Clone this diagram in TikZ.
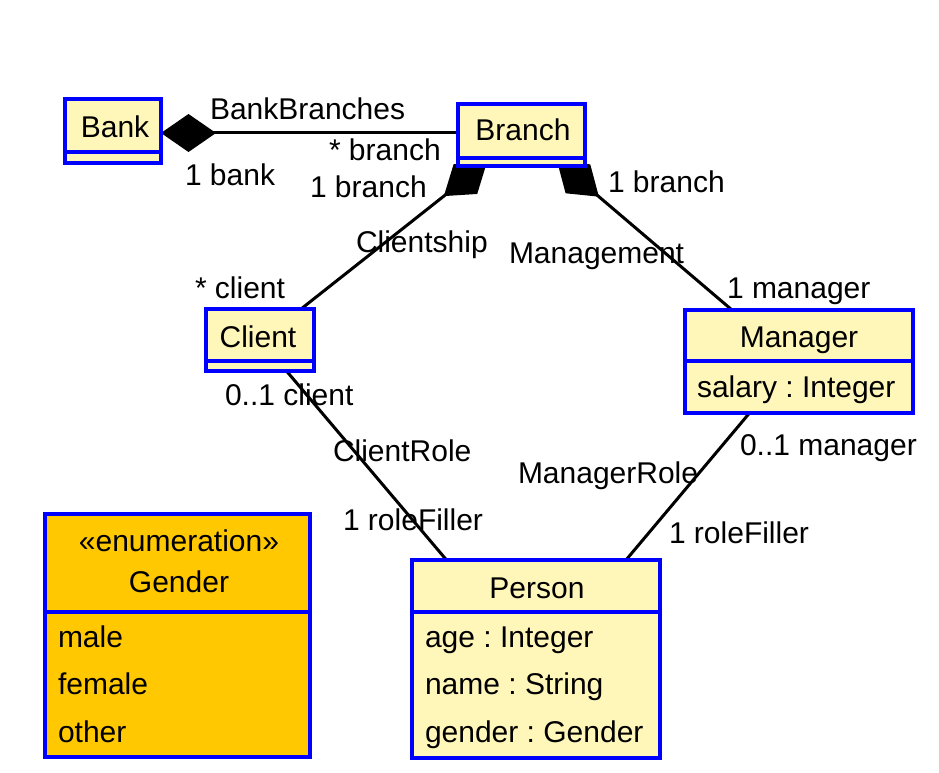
\documentclass[tikz,border=0pt]{standalone}
\usepackage{fontspec}
\setmainfont{Liberation Sans}
\usetikzlibrary{arrows.meta,calc}
\pgfdeclarelayer{bg}
\pgfsetlayers{bg,main}
\frenchspacing
\definecolor{classfill}{RGB}{255,247,185}
\definecolor{enumfill}{RGB}{255,200,0}
\definecolor{umlblue}{RGB}{0,0,255}
\tikzset{
  cls/.style={rectangle, draw=umlblue, line width=3.5pt, fill=classfill, outer sep=0pt, inner sep=0pt},
  enumbox/.style={cls, fill=enumfill},
  div/.style={draw=umlblue, line width=3.5pt},
  txt/.style={font=\fontsize{30}{35}\selectfont\frenchspacing, text=black, inner sep=0pt, outer sep=0pt},
  conn/.style={line width=3pt, draw=black},
  comp/.style={conn, {Diamond[length=55pt,width=38pt]}-},
}
\begin{document}
\begin{tikzpicture}[x=1pt,y=-1pt]
\useasboundingbox (0,0) rectangle (939,773);

% class boxes
\node[cls, minimum width=96pt, minimum height=64pt] (bank) at (113,131) {};
\node[cls, minimum width=127pt, minimum height=62pt] (branch) at (521.5,135) {};
\node[cls, minimum width=108pt, minimum height=62pt] (client) at (260,340) {};
\node[cls, minimum width=228pt, minimum height=103pt] (manager) at (799,361.5) {};
\node[cls, minimum width=248pt, minimum height=198pt] (person) at (536,659) {};
\node[enumbox, minimum width=265pt, minimum height=243pt] (gender) at (177.5,635.5) {};

% dividers
\draw[div] (bank.west |- 0,152) -- (bank.east |- 0,152);
\draw[div] (branch.west |- 0,158) -- (branch.east |- 0,158);
\draw[div] (client.west |- 0,361) -- (client.east |- 0,361);
\draw[div] (manager.west |- 0,361) -- (manager.east |- 0,361);
\draw[div] (person.west |- 0,612) -- (person.east |- 0,612);
\draw[div] (gender.west |- 0,612) -- (gender.east |- 0,612);

% class texts
\node[txt, anchor=base] (bankname) at (115,137) {Bank};
\node[txt, anchor=base] (branchname) at (523,140) {Branch};
\node[txt, anchor=base] (clientname) at (258,347) {Client};
\node[txt, anchor=base] (managername) at (799,347) {Manager};
\node[txt, anchor=base west] (salary) at (697,397) {salary : Integer};
\node[txt, anchor=base] (personname) at (537,598) {Person};
\node[txt, anchor=base west] (age) at (425,647) {age : Integer};
\node[txt, anchor=base west] (name) at (425,694.5) {name : String};
\node[txt, anchor=base west] (gattr) at (425,742) {gender : Gender};
\node[txt, anchor=base] (stereo) at (179,551) {«enumeration»};
\node[txt, anchor=base] (gendername) at (179,592) {Gender};
\node[txt, anchor=base west] (male) at (58,647) {male};
\node[txt, anchor=base west] (female) at (58,694.5) {female};
\node[txt, anchor=base west] (other) at (58,742) {other};

% connectors
\begin{pgfonlayer}{bg}
\draw[comp] ($(bank.east)+(0,2)$) -- ($(branch.west)+(0,-2)$);
\draw[comp] ($(branch.south)+(-34.5,-4)$) -- ($(client.north)+(41,0)$);
\draw[comp] ($(branch.south)+(35.5,-5)$) -- ($(manager.north)+(-67,0)$);
\draw[conn] ($(client.south)+(26.5,0)$) -- ($(person.north)+(-89.5,0)$);
\draw[conn] ($(manager.south)+(-49.5,0)$) -- ($(person.north)+(90,0)$);
\end{pgfonlayer}

% association labels
\node[txt, anchor=base west] (l1) at (210,120) {BankBranches};
\node[txt, anchor=base west] (l2) at (329,160) {* branch};
\node[txt, anchor=base west] (l3) at (185,185) {1 bank};
\node[txt, anchor=base west] (l4) at (310,197) {1 branch};
\node[txt, anchor=base west] (l5) at (608,192) {1 branch};
\node[txt, anchor=base west] (l6) at (356,252) {Clientship};
\node[txt, anchor=base west] (l7) at (509,263) {Management};
\node[txt, anchor=base west] (l8) at (195,298) {* client};
\node[txt, anchor=base west] (l9) at (727,298) {1 manager};
\node[txt, anchor=base west] (l10) at (225,405) {0..1 client};
\node[txt, anchor=base west] (l11) at (333,461) {ClientRole};
\node[txt, anchor=base west] (l12) at (518,483) {ManagerRole};
\node[txt, anchor=base west] (l13) at (740,455) {0..1 manager};
\node[txt, anchor=base west] (l14) at (343,530) {1 roleFiller};
\node[txt, anchor=base west] (l15) at (669,543) {1 roleFiller};
\end{tikzpicture}
\end{document}
